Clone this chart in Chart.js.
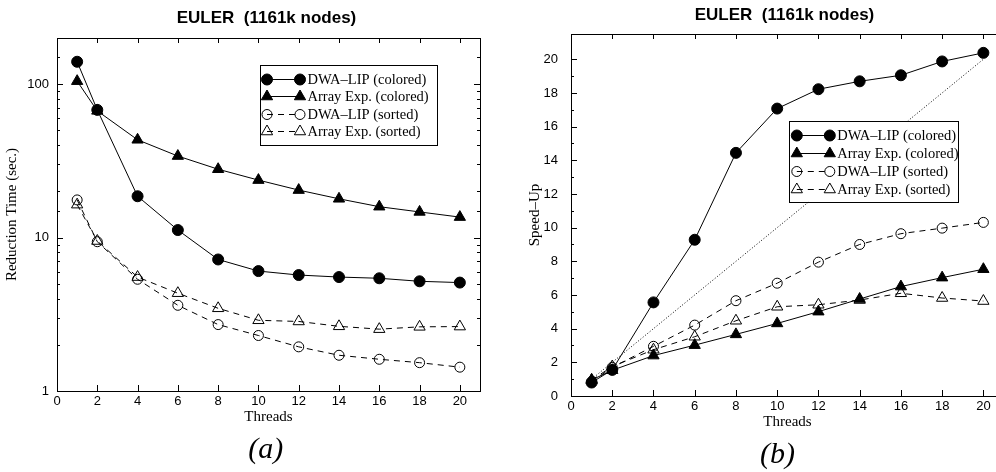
<!DOCTYPE HTML>
<html lang="en">
<head>
<meta charset="UTF-8">
<title>EULER (1161k nodes)</title>
<script src="https://cdn.jsdelivr.net/npm/chart.js@4.4.0/dist/chart.umd.min.js"></script>
<style>
  html, body { margin: 0; padding: 0; background: #fff; overflow: hidden; }
  #wrapA { position: absolute; left: 0; top: 0; width: 500px; height: 472px; }
  #wrapB { position: absolute; left: 500px; top: 0; width: 520px; height: 472px; }
</style>
</head>
<body>
<div id="wrapA"><canvas id="chartA" width="500" height="472"></canvas></div>
<div id="wrapB"><canvas id="chartB" width="520" height="472"></canvas></div>

<script>
// thread counts (x axis of both panels)
var threads = [1, 2, 4, 6, 8, 10, 12, 14, 16, 18, 20];

// (a) reduction time in seconds
var timeLipColored = [140, 68, 18.6, 11.2, 7.2, 6.05, 5.7, 5.53, 5.43, 5.19, 5.09];
var timeArrColored = [104.6, 67, 43.4, 34, 27.9, 23.7, 20.4, 17.9, 15.9, 14.7, 13.6];
var timeLipSorted  = [17.6, 9.4, 5.35, 3.62, 2.71, 2.3, 1.94, 1.71, 1.61, 1.53, 1.43];
var timeArrSorted  = [16.4, 9.5, 5.53, 4.34, 3.46, 2.89, 2.84, 2.64, 2.53, 2.62, 2.63];

// (b) speed-up
var speedLipColored = [0.8, 1.55, 5.56, 9.28, 14.44, 17.07, 18.22, 18.69, 19.05, 19.87, 20.38];
var speedArrColored = [0.95, 1.53, 2.4, 3.02, 3.66, 4.31, 5.01, 5.76, 6.5, 7.03, 7.53];
var speedLipSorted  = [0.85, 1.7, 2.95, 4.21, 5.66, 6.7, 7.95, 9.0, 9.64, 9.97, 10.31];
var speedArrSorted  = [0.95, 1.75, 2.75, 3.52, 4.47, 5.3, 5.42, 5.7, 6.1, 5.82, 5.64];

// ideal (linear) speed-up, dotted
var idealThreads = [1, 20];
var idealSpeed   = [1, 20];

var seriesNames = ['DWA\u2013LIP (colored)', 'Array Exp. (colored)', 'DWA\u2013LIP (sorted)', 'Array Exp. (sorted)'];

var SERIF = '"Liberation Serif", "Times New Roman", serif';
var SANS  = '"Liberation Sans", Arial, sans-serif';

function toPoints(xs, ys) {
  return xs.map(function(x, i) { return {x: x, y: ys[i]}; });
}

function series(label, xs, ys, style, filled, dashed) {
  return {
    label: label,
    data: toPoints(xs, ys),
    borderColor: '#000',
    borderWidth: 1,
    borderDash: dashed ? [6, 5] : [],
    pointStyle: style,
    pointRadius: style === 'triangle' ? 6.5 : (filled ? 5.5 : 5),
    pointBorderWidth: 1,
    pointBorderColor: '#000',
    pointBackgroundColor: filled ? '#000' : 'rgba(0,0,0,0)',
    tension: 0,
    fill: false
  };
}

// marker drawn in the legend box
function drawMarker(ctx, style, x, y, r, fill) {
  ctx.beginPath();
  if (style === 'triangle') {
    ctx.moveTo(x, y - r);
    ctx.lineTo(x + r * 0.866, y + r * 0.5);
    ctx.lineTo(x - r * 0.866, y + r * 0.5);
    ctx.closePath();
  } else {
    ctx.arc(x, y, r, 0, Math.PI * 2);
  }
  ctx.fillStyle = fill;
  ctx.fill();
  ctx.stroke();
}

// box around the plot with inward ticks on all four sides (gnuplot look)
var frameTicks = {
  id: 'frameTicks',
  beforeDatasetsDraw: function(chart) {
    var ctx = chart.ctx, a = chart.chartArea;
    var xs = chart.scales.x, ys = chart.scales.y;
    var isLog = ys.type === 'logarithmic';
    ctx.save();
    ctx.strokeStyle = '#000';
    ctx.lineWidth = 1;
    ctx.strokeRect(Math.round(a.left) + 0.5, Math.round(a.top) + 0.5,
                   Math.round(a.right - a.left), Math.round(a.bottom - a.top));
    ctx.beginPath();
    xs.ticks.forEach(function(t) {
      if (t.value % 2 !== 0) return;
      var px = Math.round(xs.getPixelForValue(t.value)) + 0.5;
      ctx.moveTo(px, a.bottom); ctx.lineTo(px, a.bottom - 6);
      ctx.moveTo(px, a.top);    ctx.lineTo(px, a.top + 5);
    });
    ys.ticks.forEach(function(t) {
      var v = t.value, major;
      if (isLog) {
        var l = Math.log10(v);
        major = Math.abs(l - Math.round(l)) < 1e-9;
      } else {
        if (Math.abs(v - Math.round(v)) > 1e-9) return;
        major = Math.round(v) % 2 === 0;
      }
      var len = major ? 6 : 3;
      var py = Math.round(ys.getPixelForValue(v)) + 0.5;
      ctx.moveTo(a.left, py);  ctx.lineTo(a.left + len, py);
      ctx.moveTo(a.right, py); ctx.lineTo(a.right - len, py);
    });
    ctx.stroke();
    ctx.restore();
  }
};

// legend box inside the plot: marker, line, marker, label
var boxLegend = {
  id: 'boxLegend',
  afterDatasetsDraw: function(chart, args, o) {
    var ctx = chart.ctx;
    ctx.save();
    ctx.fillStyle = '#fff';
    ctx.fillRect(o.x, o.y, o.w, o.h);
    ctx.strokeStyle = '#000';
    ctx.lineWidth = 1;
    ctx.strokeRect(Math.round(o.x) + 0.5, Math.round(o.y) + 0.5, o.w, o.h);
    ctx.font = '14.5px ' + SERIF;
    ctx.textBaseline = 'middle';
    ctx.textAlign = 'left';
    var row = 0;
    chart.data.datasets.forEach(function(ds) {
      if (!ds.label) return;
      var y = Math.round(o.y + o.first + row * o.step) + 0.5;
      var x1 = o.x + 7.5, x2 = x1 + 33;
      ctx.setLineDash(ds.borderDash);
      ctx.beginPath();
      ctx.moveTo(x1, y); ctx.lineTo(x2, y);
      ctx.stroke();
      ctx.setLineDash([]);
      drawMarker(ctx, ds.pointStyle, x1, y, ds.pointRadius, ds.pointBackgroundColor);
      drawMarker(ctx, ds.pointStyle, x2, y, ds.pointRadius, ds.pointBackgroundColor);
      ctx.fillStyle = '#000';
      ctx.fillText(ds.label, x2 + 7.5, y + 0.5);
      row++;
    });
    ctx.restore();
  }
};

// panel title on top and (a)/(b) caption below
var captions = {
  id: 'captions',
  afterDraw: function(chart, args, o) {
    var ctx = chart.ctx;
    ctx.save();
    ctx.fillStyle = '#000';
    ctx.textAlign = 'center';
    ctx.textBaseline = 'middle';
    ctx.font = 'bold 17px ' + SANS;
    ctx.fillText(o.title, o.titleX, o.titleY);
    ctx.font = 'italic 30px ' + SERIF;
    ctx.fillText(o.caption, o.capX, o.capY);
    ctx.restore();
  }
};

function xAxis() {
  return {
    type: 'linear', min: 0, max: 21,
    grid: {display: false, drawTicks: false}, border: {display: false},
    ticks: {
      stepSize: 1, autoSkip: false, maxRotation: 0, padding: 3, color: '#000',
      font: {family: SANS, size: 13},
      callback: function(v) { return v % 2 === 0 ? String(v) : ''; }
    },
    title: {display: true, text: 'Threads', color: '#000',
            font: {family: SERIF, size: 15}, padding: {top: 0, bottom: 14.5}},
    afterFit: function(s) { s.height = 50; }
  };
}

window.onload = function() {
  // (a) reduction time, log scale
  new Chart(document.getElementById('chartA').getContext('2d'), {
    type: 'line',
    data: {
      datasets: [
        series(seriesNames[0], threads, timeLipColored, 'circle', true, false),
        series(seriesNames[1], threads, timeArrColored, 'triangle', true, false),
        series(seriesNames[2], threads, timeLipSorted, 'circle', false, true),
        series(seriesNames[3], threads, timeArrSorted, 'triangle', false, true)
      ]
    },
    options: {
      responsive: false, animation: false, events: [],
      layout: {padding: {top: 38, left: 0, right: 20, bottom: 31}},
      scales: {
        x: xAxis(),
        y: {
          type: 'logarithmic', min: 1, max: 200,
          grid: {display: false, drawTicks: false}, border: {display: false},
          ticks: {
            autoSkip: false, padding: 8, color: '#000',
            font: {family: SANS, size: 13},
            callback: function(v) {
              var l = Math.log10(v);
              return Math.abs(l - Math.round(l)) < 1e-9 ? String(v) : '';
            }
          },
          title: {display: true, text: 'Reduction Time (sec.)', color: '#000',
                  font: {family: SERIF, size: 15}, padding: {top: 3, bottom: 0}},
          afterFit: function(s) { s.width = 57; }
        }
      },
      plugins: {
        legend: {display: false},
        tooltip: {enabled: false},
        boxLegend: {x: 259.5, y: 65, w: 177, h: 80, first: 13.5, step: 17.5},
        captions: {title: 'EULER  (1161k nodes)', titleX: 266.5, titleY: 18.5,
                   caption: '(a)', capX: 265.7, capY: 450}
      }
    },
    plugins: [frameTicks, boxLegend, captions]
  });

  // (b) speed-up, linear scale
  var ideal = {
    label: '',
    data: toPoints(idealThreads, idealSpeed),
    borderColor: '#000', borderWidth: 1, borderDash: [1, 2],
    pointRadius: 0, tension: 0, fill: false
  };
  new Chart(document.getElementById('chartB').getContext('2d'), {
    type: 'line',
    data: {
      datasets: [
        series(seriesNames[0], threads, speedLipColored, 'circle', true, false),
        series(seriesNames[1], threads, speedArrColored, 'triangle', true, false),
        series(seriesNames[2], threads, speedLipSorted, 'circle', false, true),
        series(seriesNames[3], threads, speedArrSorted, 'triangle', false, true),
        ideal
      ]
    },
    options: {
      responsive: false, animation: false, events: [],
      layout: {padding: {top: 34, left: 0, right: 16, bottom: 26}},
      scales: {
        x: xAxis(),
        y: {
          type: 'linear', min: 0, max: 21.5,
          grid: {display: false, drawTicks: false}, border: {display: false},
          ticks: {
            stepSize: 1, autoSkip: false, padding: 13, color: '#000',
            font: {family: SANS, size: 13},
            callback: function(v) { return v % 2 === 0 ? String(v) : ''; }
          },
          title: {display: true, text: 'Speed\u2013Up', color: '#000',
                  font: {family: SERIF, size: 15}, padding: {top: 26.5, bottom: 0}},
          afterFit: function(s) { s.width = 71; }
        }
      },
      plugins: {
        legend: {display: false},
        tooltip: {enabled: false},
        boxLegend: {x: 289.3, y: 120.7, w: 169, h: 81, first: 14.5, step: 18},
        captions: {title: 'EULER  (1161k nodes)', titleX: 284.5, titleY: 15,
                   caption: '(b)', capX: 277.5, capY: 455}
      }
    },
    plugins: [frameTicks, boxLegend, captions]
  });
};
</script>
</body>
</html>
